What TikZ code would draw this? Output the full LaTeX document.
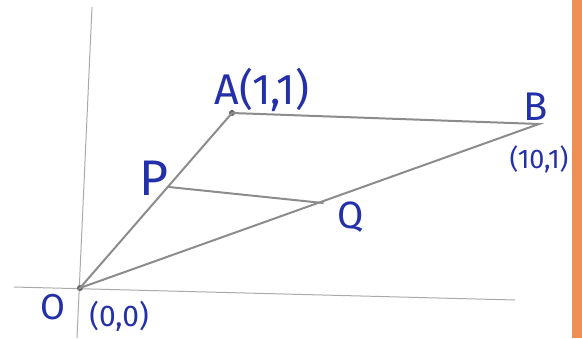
\documentclass[tikz,border=0pt]{standalone}
\usepackage{fontspec}
\setmainfont{Fira Sans}
\usetikzlibrary{positioning}
\definecolor{inkblue}{RGB}{36,48,170}
\definecolor{pencil}{RGB}{140,140,140}
\definecolor{axisgray}{RGB}{170,170,170}
\definecolor{pageedge}{RGB}{240,142,84}

\begin{document}
\begin{tikzpicture}[
    x=1pt,y=-1pt,
    axis/.style={draw=axisgray,line width=1pt},
    edge/.style={draw=pencil,line width=2pt,line cap=round},
    lbl/.style={text=inkblue,inner sep=0pt,font=\fontsize{34}{40}\selectfont},
    dot/.style={circle,fill=pencil!70!black,inner sep=0pt,minimum size=6pt}
  ]
    \useasboundingbox (0,0) rectangle (582,338);
    \fill[pageedge] (572,0) rectangle (582,338);
    % axes
    \coordinate (ytop) at (92,7);
    \coordinate (ybot) at (77,338);
    \coordinate (xleft) at (14,287);
    \coordinate (xright) at (515,300);
    \draw[axis] (ytop) -- (ybot);
    \draw[axis] (xleft) -- (xright);
    % points
    \node[dot] (o) at (80,288) {};
    \node[dot] (a) at (232,113) {};
    \coordinate (b) at (539,124);
    \coordinate (p) at (169,187);
    \coordinate (q) at (323,203);
    \draw[edge] (o.center) -- (a.center) -- (b) -- cycle;
    \draw[edge] (p) -- (q);
    % labels
    \node[lbl,font=\fontsize{43}{48}\selectfont] (alab) at (262,90) {A(1,1)};
    \node[lbl,font=\fontsize{40}{44}\selectfont] (blab) at (536,107) {B};
    \node[lbl,font=\fontsize{27}{30}\selectfont] (bcoord) at (539,159) {(10,1)};
    \node[lbl,font=\fontsize{50}{56}\selectfont] (plab) at (154,178) {P};
    \node[lbl,font=\fontsize{38}{42}\selectfont] (qlab) at (351,217) {Q};
    \node[lbl,font=\fontsize{36}{40}\selectfont] (olab) at (53,307) {O};
    \node[lbl,font=\fontsize{30}{34}\selectfont] (ocoord) at (119,316) {(0,0)};
\end{tikzpicture}
\end{document}
